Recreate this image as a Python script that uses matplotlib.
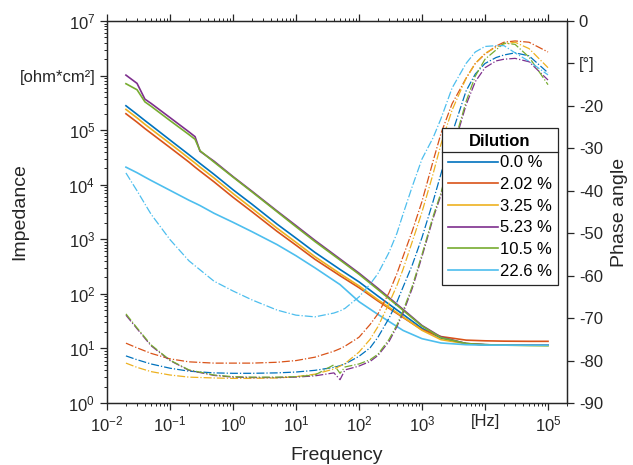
import matplotlib
matplotlib.use('Agg')
from matplotlib import pyplot as plt
from matplotlib.lines import Line2D
from matplotlib.ticker import LogLocator, NullFormatter, FixedLocator

plt.rcParams['font.family'] = ['Liberation Sans', 'DejaVu Sans']
plt.rcParams['mathtext.fontset'] = 'custom'
plt.rcParams['mathtext.rm'] = 'Liberation Sans'
plt.rcParams['mathtext.it'] = 'Liberation Sans'

labels = ['0.0 %', '2.02 %', '3.25 %', '5.23 %', '10.5 %', '22.6 %']
colors = ['#0072BD', '#D95319', '#EDB120', '#7E2F8E', '#77AC30', '#4DBEEE']

# impedance (solid), ohm*cm2
f_z = [0.02, 0.03, 0.04, 0.05, 0.1, 0.2, 0.25, 0.3, 0.5, 1, 2, 5, 10, 20, 50,
       100, 200, 500, 1000, 2000, 5000, 10000, 20000, 50000, 100000]
z_00 = [2.8e5, 1.95e5, 1.5e5, 1.23e5, 6.6e4, 3.55e4, 2.9e4, 2.45e4, 1.55e4, 8.1e3,
        4.4e3, 1.9e3, 1.05e3, 575, 280, 166, 91, 42, 23.4, 15.5, 12.3, 11.7, 11.5, 11.5, 11.5]
z_202 = [2.0e5, 1.4e5, 1.07e5, 8.8e4, 4.8e4, 2.6e4, 2.1e4, 1.78e4, 1.13e4, 5.9e3,
         3.2e3, 1.4e3, 780, 430, 215, 130, 74, 37, 22, 16.5, 14.2, 13.8, 13.6, 13.5, 13.5]
z_325 = [2.4e5, 1.68e5, 1.28e5, 1.05e5, 5.7e4, 3.05e4, 2.5e4, 2.1e4, 1.33e4, 6.9e3,
         3.7e3, 1.6e3, 880, 480, 235, 140, 78, 38, 21.5, 14.5, 12.2, 11.7, 11.5, 11.5, 11.5]
z_523 = [1.02e6, 7.2e5, 3.7e5, 3.1e5, 1.7e5, 9.3e4, 7.6e4, 4.1e4, 2.7e4, 1.41e4,
         7.6e3, 3.3e3, 1.78e3, 955, 436, 240, 126, 52, 26.3, 16.2, 12.3, 11.7, 11.5, 11.5, 11.5]
z_105 = [7.1e5, 5.5e5, 3.3e5, 2.75e5, 1.5e5, 8.3e4, 6.8e4, 4.2e4, 2.6e4, 1.38e4,
         7.4e3, 3.2e3, 1.7e3, 910, 417, 229, 120, 50, 25.7, 15.8, 12.3, 11.7, 11.5, 11.3, 11.2]
z_226 = [2.1e4, 1.66e4, 1.38e4, 1.2e4, 7.9e3, 5.2e3, 4.6e3, 4.15e3, 3.0e3, 2.05e3,
         1.38e3, 800, 500, 300, 148, 72, 42, 21.4, 15.1, 12.6, 11.7, 11.5, 11.5, 11.5, 11.5]

# phase angle (dash-dot), degrees
f_p = [0.02, 0.03, 0.05, 0.1, 0.2, 0.5, 1, 2, 5, 10, 20, 40, 50, 60, 100, 150, 200,
       300, 400, 500, 700, 1000, 1500, 2000, 3000, 5000, 7000, 10000, 15000, 20000,
       30000, 50000, 100000]
p_00 = [-78.9, -79.8, -80.8, -81.8, -82.5, -82.9, -83.0, -83.0, -82.9, -82.7, -82.3,
        -81.6, -81.2, -80.8, -79.0, -77.0, -74.5, -70.0, -66.2, -62.7, -57.5, -51.0,
        -42.5, -36.0, -26.5, -16.5, -12.5, -10.0, -8.6, -8.0, -7.5, -8.2, -12.2]
p_202 = [-75.9, -77.0, -78.3, -79.6, -80.3, -80.6, -80.6, -80.6, -80.4, -80.0, -79.2,
         -77.8, -77.2, -76.6, -74.5, -71.5, -69.0, -64.0, -59.5, -55.5, -49.5, -42.5,
         -33.0, -26.5, -19.5, -13.5, -10.0, -7.8, -5.9, -5.0, -4.7, -5.0, -7.3]
p_325 = [-80.6, -81.6, -82.6, -83.4, -83.9, -84.1, -84.2, -84.2, -84.1, -83.8, -83.2,
         -82.0, -81.3, -80.7, -78.0, -75.0, -72.0, -66.5, -62.3, -58.5, -52.0, -45.0,
         -36.0, -29.0, -21.0, -13.5, -10.0, -7.6, -6.2, -5.4, -5.0, -6.5, -11.0]
p_523 = [-69.3, -72.5, -76.5, -80.0, -82.3, -83.5, -83.9, -84.0, -84.0, -83.9, -83.6,
         -82.9, -84.5, -82.2, -81.3, -80.2, -78.8, -75.5, -72.0, -68.8, -63.0, -55.5,
         -46.5, -41.0, -31.0, -19.8, -14.3, -11.0, -9.4, -9.0, -8.8, -9.6, -13.9]
p_105 = [-69.0, -72.3, -76.3, -79.9, -82.2, -83.4, -83.8, -83.9, -83.9, -83.8, -83.4,
         -81.0, -83.0, -81.5, -80.8, -79.8, -78.5, -75.0, -71.6, -68.3, -62.5, -55.0,
         -46.0, -40.5, -30.5, -19.0, -13.0, -9.0, -6.8, -5.2, -5.5, -8.5, -15.0]
p_226 = [-35.8, -40.0, -45.5, -51.5, -56.5, -61.3, -63.6, -65.7, -68.1, -69.3, -69.7,
         -68.8, -68.3, -67.7, -65.0, -62.0, -59.5, -54.5, -50.0, -45.5, -39.0, -32.5,
         -27.5, -23.0, -15.8, -10.0, -7.3, -6.0, -5.8, -5.8, -7.5, -9.5, -12.7]

z_all = [z_00, z_202, z_325, z_523, z_105, z_226]
p_all = [p_00, p_202, p_325, p_523, p_105, p_226]

x_ticks = [1e-2, 1e-1, 1e0, 1e1, 1e2, 1e3, 1e4, 1e5]
x_ticklabels = ['$10^{-2}$', '$10^{-1}$', '$10^{0}$', '$10^{1}$', '$10^{2}$',
                '$10^{3}$', '[Hz]', '$10^{5}$']
yl_ticks = [1e0, 1e1, 1e2, 1e3, 1e4, 1e5, 1e6, 1e7]
yl_ticklabels = ['$10^{0}$', '$10^{1}$', '$10^{2}$', '$10^{3}$', '$10^{4}$',
                 '$10^{5}$', '[ohm*cm\u00b2]', '$10^{7}$']
yr_ticks = [0, -10, -20, -30, -40, -50, -60, -70, -80, -90]
yr_ticklabels = ['0', '[\u00b0]', '-20', '-30', '-40', '-50', '-60', '-70', '-80', '-90']

axcol = '#262626'
fig = plt.figure(figsize=(6.33, 4.65), dpi=100)
ax = fig.add_axes([0.169, 0.1333, 0.7267, 0.8215])
ax2 = ax.twinx()

lines = []
for z, c, lab in zip(z_all, colors, labels):
    ln, = ax.plot(f_z, z, color=c, lw=1.2, label=lab)
    lines.append(ln)
for p, c in zip(p_all, colors):
    ax2.plot(f_p, p, color=c, lw=0.9, ls='-.')

ax.set_xscale('log')
ax.set_yscale('log')
ax.set_xlim(1e-2, 2e5)
ax.set_ylim(1, 1e7)
ax2.set_ylim(-90, 0)

ax.set_xticks(x_ticks)
ax.set_xticklabels(x_ticklabels)
ax.xaxis.set_minor_locator(LogLocator(base=10, subs=range(2, 10), numticks=20))
ax.xaxis.set_minor_formatter(NullFormatter())
ax.set_yticks(yl_ticks)
ax.set_yticklabels(yl_ticklabels)
ax.yaxis.set_minor_locator(LogLocator(base=10, subs=range(2, 10), numticks=20))
ax.yaxis.set_minor_formatter(NullFormatter())
ax2.yaxis.set_major_locator(FixedLocator(yr_ticks))
ax2.set_yticklabels(yr_ticklabels)

ax.tick_params(axis='both', which='both', direction='out', colors=axcol,
               labelsize=12, top=True, right=False)
ax.tick_params(which='major', length=5, width=0.9)
ax.tick_params(which='minor', length=2.5, width=0.7)
ax.tick_params(axis='x', pad=3)
ax2.tick_params(axis='y', direction='out', length=5, width=0.9, colors=axcol,
                labelsize=12)
for a in (ax, ax2):
    for s in a.spines.values():
        s.set_color(axcol)
        s.set_linewidth(0.9)

ax.set_xlabel('Frequency', fontsize=14, color=axcol)
ax.set_ylabel('Impedance', fontsize=14, color=axcol)
ax2.set_ylabel('Phase angle', fontsize=14, color=axcol)
ax.xaxis.set_label_coords(0.5, -0.115)
ax.yaxis.set_label_coords(-0.172, 0.5)
ax2.yaxis.set_label_coords(1.096, 0.5)

leg = ax2.legend(handles=lines, title='Dilution', loc='upper left',
                 bbox_to_anchor=(0.698, 0.725), bbox_transform=fig.transFigure,
                 borderaxespad=0, fontsize=12,
                 title_fontproperties={'weight': 'bold', 'size': 12},
                 fancybox=False, edgecolor=axcol, framealpha=1,
                 handlelength=3.0, handletextpad=0.15, labelspacing=0.4,
                 borderpad=0.35)
leg.get_frame().set_linewidth(0.9)

fig.canvas.draw()
fb = leg.get_frame().get_window_extent()
tb = leg.get_title().get_window_extent()
ysep = tb.y0 - 3
W, H = fig.bbox.width, fig.bbox.height
fig.add_artist(Line2D([fb.x0 / W, fb.x1 / W], [ysep / H, ysep / H],
                      transform=fig.transFigure, color=axcol, lw=0.9, zorder=10))

fig.savefig('out.png', dpi=100)
